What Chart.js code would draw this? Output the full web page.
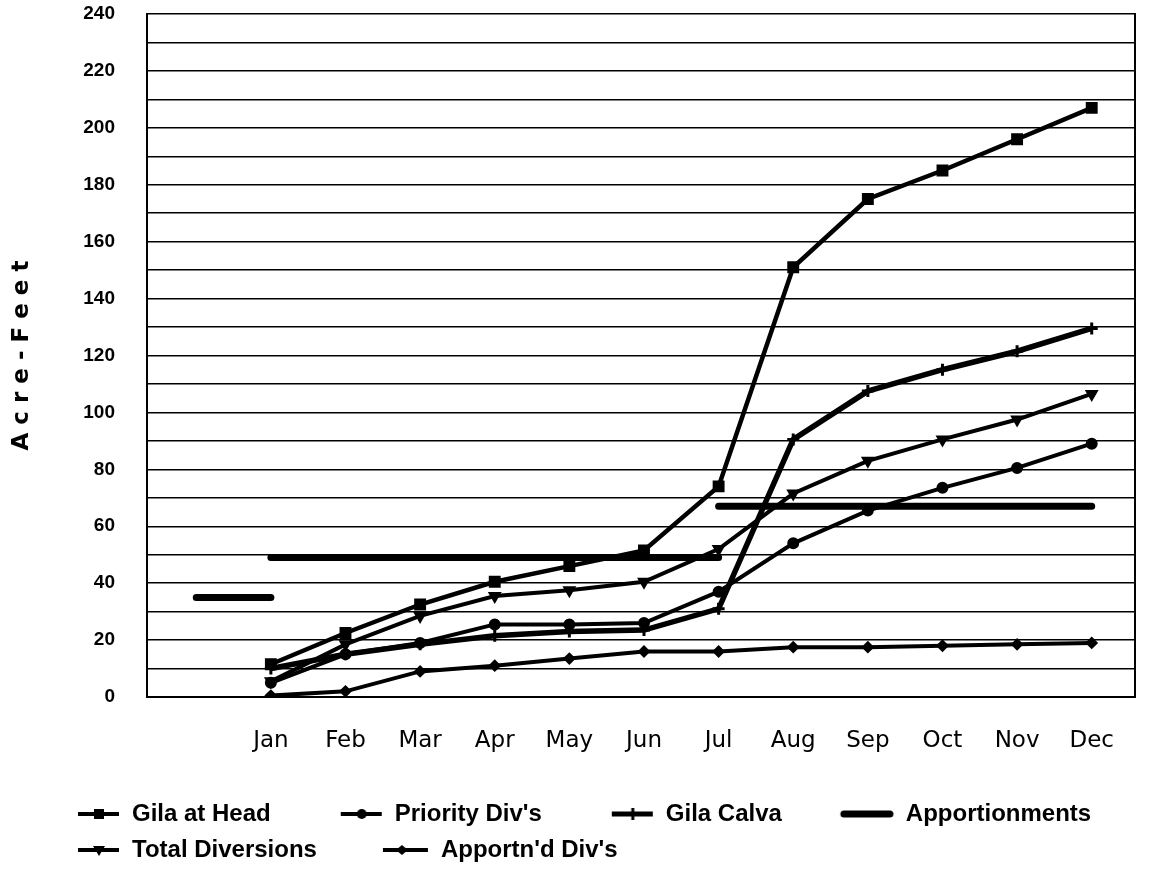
<!DOCTYPE html>
<html>
<head>
    <meta charset="UTF-8">
    <title>Acre-Feet by Month</title>
    <script src="https://cdn.jsdelivr.net/npm/chart.js"></script>
    <style>
        body { margin: 0; background: #fff; }
    </style>
</head>
<body>
    <canvas id="acreFeetChart" width="1149" height="872"></canvas>

    <script>
        // x position 0 is the blank slot before Jan
        var months = ['', 'Jan', 'Feb', 'Mar', 'Apr', 'May', 'Jun', 'Jul', 'Aug', 'Sep', 'Oct', 'Nov', 'Dec'];
        var yTickLabels = [0, 20, 40, 60, 80, 100, 120, 140, 160, 180, 200, 220, 240];

        var gilaAtHead  = [11.5, 22.5, 32.5, 40.5, 46, 51.5, 74, 151, 175, 185, 196, 207];
        var priorityDiv = [5, 15, 19, 25.5, 25.5, 26, 37, 54, 65.5, 73.5, 80.5, 89];
        var gilaCalva   = [10, 15, 18.5, 21.5, 23, 23.5, 31, 90.5, 107.5, 115, 121.5, 129.5];
        var totalDiv    = [5.5, 18.5, 28.5, 35.5, 37.5, 40.5, 52, 71.5, 83, 90.5, 97.5, 106.5];
        var apportnDiv  = [0.5, 2, 9, 11, 13.5, 16, 16, 17.5, 17.5, 18, 18.5, 19];

        // apportionment steps: value held from one month slot to another
        var apportionFrom   = [0, 1, 7];
        var apportionTo     = [1, 7, 12];
        var apportionValues = [35, 49, 67];

        function monthPoints(values) {
            var pts = [];
            for (var i = 0; i < values.length; i++) {
                pts.push({ x: i + 1, y: values[i] });
            }
            return pts;
        }

        function stepPoints() {
            var pts = [];
            for (var i = 0; i < apportionValues.length; i++) {
                pts.push({ x: apportionFrom[i], y: apportionValues[i] });
                pts.push({ x: apportionTo[i], y: apportionValues[i] });
                pts.push({ x: apportionTo[i], y: null });
            }
            return pts;
        }

        // small line+marker samples for the legend
        function makeIcon(marker, lw) {
            var c = document.createElement('canvas');
            c.width = 100;
            c.height = 22;
            var g = c.getContext('2d');
            g.strokeStyle = '#000';
            g.fillStyle = '#000';
            g.lineWidth = lw;
            g.lineCap = marker === 'none' ? 'round' : 'butt';
            g.beginPath();
            g.moveTo(marker === 'none' ? 50 : 58, 11);
            g.lineTo(marker === 'none' ? 96 : 99, 11);
            g.stroke();
            var cx = 79, cy = 11;
            g.beginPath();
            if (marker === 'rect') {
                g.fillRect(cx - 5, cy - 5, 10, 10);
            } else if (marker === 'circle') {
                g.arc(cx, cy, 5, 0, Math.PI * 2);
                g.fill();
            } else if (marker === 'cross') {
                g.lineWidth = 3;
                g.moveTo(cx, cy - 6);
                g.lineTo(cx, cy + 6);
                g.stroke();
            } else if (marker === 'triangle') {
                g.moveTo(cx - 6, cy - 4);
                g.lineTo(cx + 6, cy - 4);
                g.lineTo(cx, cy + 6);
                g.fill();
            } else if (marker === 'diamond') {
                g.fillRect(54, cy - 2, 4, 4);
                g.beginPath();
                g.moveTo(cx - 12, cy);
                g.lineTo(cx - 6, cy - 5);
                g.lineTo(cx, cy);
                g.lineTo(cx - 6, cy + 5);
                g.fill();
            }
            return c;
        }

        var legendIcons = [
            makeIcon('rect', 4),
            makeIcon('circle', 4),
            makeIcon('cross', 5),
            makeIcon('none', 7),
            makeIcon('triangle', 4),
            makeIcon('diamond', 4)
        ];

        function lineSet(label, values, style, radius, width, extra) {
            var ds = {
                label: label,
                data: monthPoints(values),
                borderColor: '#000',
                backgroundColor: '#000',
                borderWidth: width,
                pointStyle: style,
                pointRadius: radius,
                pointBorderWidth: 2,
                pointBackgroundColor: '#000',
                pointBorderColor: '#000',
                tension: 0
            };
            for (var k in extra) ds[k] = extra[k];
            return ds;
        }

        var ctx = document.getElementById('acreFeetChart').getContext('2d');
        var acreFeetChart = new Chart(ctx, {
            type: 'line',
            data: {
                datasets: [
                    lineSet('Gila at Head', gilaAtHead, 'rect', 7, 4.5, {}),
                    lineSet("Priority Div's", priorityDiv, 'circle', 5, 4, {}),
                    lineSet('Gila Calva', gilaCalva, 'cross', 6, 5.5, { pointBorderWidth: 3 }),
                    {
                        label: 'Apportionments',
                        data: stepPoints(),
                        borderColor: '#000',
                        backgroundColor: '#000',
                        borderWidth: 7,
                        borderCapStyle: 'round',
                        pointRadius: 0,
                        spanGaps: false,
                        tension: 0
                    },
                    lineSet('Total Diversions', totalDiv, 'triangle', 6, 4, { pointRotation: 180 }),
                    lineSet("Apportn'd Div's", apportnDiv, 'rectRot', 5, 4, {})
                ]
            },
            options: {
                responsive: false,
                animation: false,
                devicePixelRatio: 1,
                layout: { padding: { left: 8, right: 14, top: 14, bottom: 0 } },
                scales: {
                    x: {
                        type: 'linear',
                        min: -0.66,
                        max: 12.58,
                        afterBuildTicks: function (scale) {
                            scale.ticks = months.map(function (m, i) { return { value: i }; });
                        },
                        afterFit: function (scale) { scale.height = 93; },
                        ticks: {
                            autoSkip: false,
                            maxRotation: 0,
                            padding: 30,
                            color: '#000',
                            font: { family: 'DejaVu Sans', size: 23 },
                            callback: function (value) { return months[value]; }
                        },
                        grid: { display: false, drawTicks: false },
                        border: { display: true, color: '#000', width: 2 }
                    },
                    y: {
                        min: 0,
                        max: 240,
                        afterFit: function (scale) { scale.width = 139; },
                        ticks: {
                            stepSize: 10,
                            autoSkip: false,
                            padding: 2,
                            color: '#000',
                            font: { family: 'Liberation Sans', size: 19, weight: 'bold' },
                            callback: function (value) {
                                return yTickLabels.indexOf(value) >= 0 ? value : '';
                            }
                        },
                        // invisible tick marks keep the labels clear of the axis
                        grid: { color: '#000', lineWidth: 1.5, drawTicks: true, tickLength: 30, tickColor: 'rgba(0,0,0,0)' },
                        border: { color: '#000', width: 2 },
                        title: {
                            display: true,
                            text: 'A c r e - F e e t',
                            color: '#000',
                            font: { family: 'DejaVu Sans', size: 23, weight: 'bold' },
                            padding: { top: 0, bottom: 0 }
                        }
                    },
                    y2: {
                        position: 'right',
                        afterFit: function (scale) { scale.width = 0; },
                        ticks: { display: false },
                        grid: { display: false, drawTicks: false },
                        border: { display: true, color: '#000', width: 2 }
                    }
                },
                plugins: {
                    tooltip: { enabled: false },
                    legend: {
                        position: 'bottom',
                        align: 'start',
                        labels: {
                            usePointStyle: true,
                            pointStyleWidth: 100,
                            padding: 12,
                            color: '#000',
                            font: { family: 'Liberation Sans', size: 24, weight: 'bold' },
                            generateLabels: function (chart) {
                                var items = Chart.defaults.plugins.legend.labels.generateLabels(chart);
                                items.forEach(function (item) {
                                    item.pointStyle = legendIcons[item.datasetIndex];
                                    item.rotation = 0;
                                });
                                return items;
                            }
                        }
                    }
                }
            }
        });
    </script>
</body>
</html>
